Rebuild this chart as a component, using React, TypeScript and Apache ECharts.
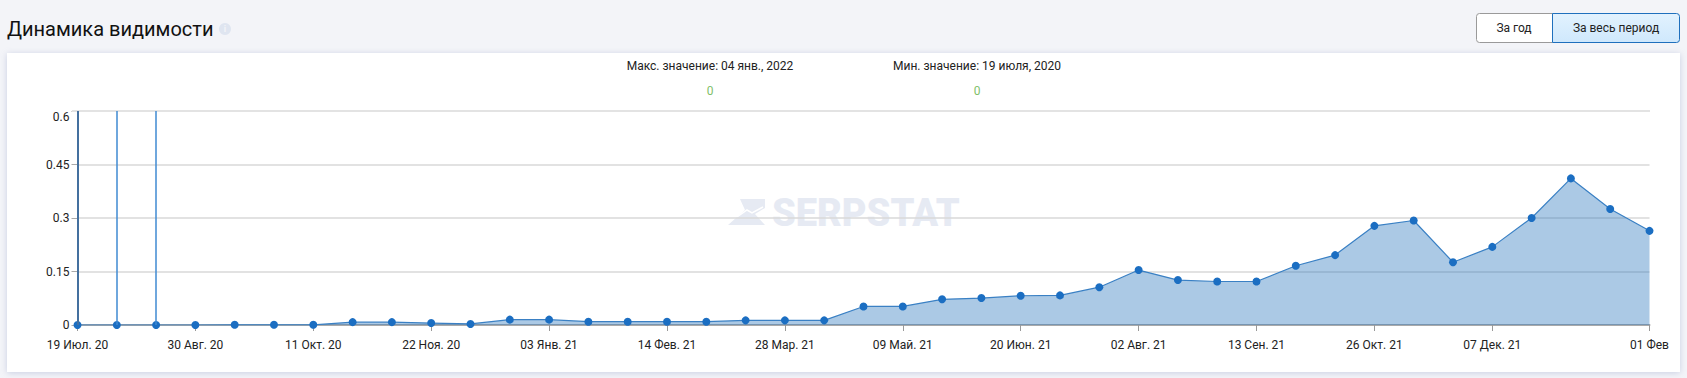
import React, { useEffect, useRef } from "react";
import * as echarts from "echarts";

const categories = [
  "19 Июл. 20","02 Авг. 20","16 Авг. 20","30 Авг. 20","13 Сен. 20","27 Сен. 20","11 Окт. 20","25 Окт. 20","08 Ноя. 20","22 Ноя. 20",
  "06 Дек. 20","20 Дек. 20","03 Янв. 21","17 Янв. 21","31 Янв. 21","14 Фев. 21","28 Фев. 21","14 Мар. 21","28 Мар. 21","11 Апр. 21",
  "25 Апр. 21","09 Май. 21","23 Май. 21","06 Июн. 21","20 Июн. 21","04 Июл. 21","18 Июл. 21","02 Авг. 21","16 Авг. 21","30 Авг. 21",
  "13 Сен. 21","27 Сен. 21","11 Окт. 21","26 Окт. 21","09 Ноя. 21","23 Ноя. 21","07 Дек. 21","21 Дек. 21","04 Янв. 22","18 Янв. 22","01 Фев",
];
const visibility = [
  0, 0, 0, 0, 0.0005, 0.0005, 0.0005, 0.008, 0.008, 0.0055,
  0.003, 0.015, 0.015, 0.0093, 0.0093, 0.0093, 0.0093, 0.013, 0.013, 0.013,
  0.052, 0.052, 0.072, 0.0755, 0.082, 0.083, 0.106, 0.154, 0.126, 0.122,
  0.122, 0.166, 0.196, 0.278, 0.293, 0.176, 0.219, 0.3, 0.411, 0.325, 0.264,
];
const spikes = ["19 Июл. 20", "02 Авг. 20", "16 Авг. 20"];
const labelledIndexes = [0, 3, 6, 9, 12, 15, 18, 21, 24, 27, 30, 33, 36, 40];
const yMax = 0.6;
const yStep = 0.15;

const FONT = "Roboto, sans-serif";

export default function App() {
  const ref = useRef<HTMLDivElement>(null);
  useEffect(() => {
    document.body.style.margin = "0";
    const chart = echarts.init(ref.current!, null, { renderer: "svg" });
    const showIdx = (i: number) => labelledIndexes.includes(i);
    chart.setOption({
      animation: false,
      backgroundColor: "#f3f4f8",
      textStyle: { fontFamily: FONT },
      grid: { left: 77.5, right: 37.5, top: 111, height: 214, containLabel: false },
      xAxis: {
        type: "category",
        boundaryGap: false,
        data: categories,
        axisLine: { show: true, lineStyle: { color: "#a9a9a9", width: 2 } },
        axisTick: { show: true, length: 6, interval: showIdx as any, lineStyle: { color: "#999", width: 1 } },
        axisLabel: { interval: showIdx as any, color: "#222", fontSize: 12, fontFamily: FONT, margin: 14, hideOverlap: false },
        splitLine: { show: false },
      },
      yAxis: {
        type: "value",
        min: 0,
        max: yMax,
        interval: yStep,
        axisLine: { show: false },
        axisTick: { show: true, length: 6, lineStyle: { color: "#aaa" } },
        axisLabel: {
          color: "#222", fontSize: 12, fontFamily: FONT, margin: 8,
          verticalAlignMaxLabel: "top",
          formatter: (v: number) => String(+v.toFixed(2)),
        },
        splitLine: { show: true, lineStyle: { color: "#d8d8d8", width: 1.5 } },
      },
      series: [
        {
          type: "line",
          data: visibility,
          smooth: false,
          symbol: "circle",
          symbolSize: 8,
          showAllSymbols: true,
          showSymbol: true,
          itemStyle: { color: "#1b6ec2" },
          lineStyle: { color: "#3a80c4", width: 1.2 },
          areaStyle: { color: "#2d78bd", opacity: 0.4 },
          markLine: {
            silent: true,
            symbol: "none",
            label: { show: false },
            lineStyle: { color: "#3f8ad2", width: 1.5, type: "solid" },
            data: spikes.map((s, i) => ({
              xAxis: s,
              lineStyle: i === 0 ? { color: "#44709f", width: 2, type: "solid" } : { color: "#3f8ad2", width: 1.5, type: "solid" },
            })),
          },
        },
      ],
      graphic: [
        {
          type: "rect", z: -10,
          shape: { x: 7, y: 53, width: 1673, height: 319 },
          style: { fill: "#fff", shadowBlur: 6, shadowColor: "rgba(150,160,200,0.45)", shadowOffsetY: 1 },
        },
        // thicker top grid line
        { type: "line", z: 1, shape: { x1: 72, y1: 111, x2: 1650, y2: 111 }, style: { stroke: "#e3e3e3", lineWidth: 2 } },
        // title
        { type: "text", x: 7, y: 29, style: { text: "Динамика видимости", font: `400 20px ${FONT}`, fill: "#111", verticalAlign: "middle" } },
        { type: "circle", shape: { cx: 225, cy: 29, r: 6 }, style: { fill: "#dfe5f0" } },
        { type: "text", x: 225, y: 29, style: { text: "i", font: `700 9px ${FONT}`, fill: "#f3f4f8", align: "center", verticalAlign: "middle" } },
        // buttons
        { type: "rect", shape: { x: 1476.5, y: 13.5, width: 76, height: 29, r: [3, 0, 0, 3] }, style: { fill: "#fff", stroke: "#9a9a9a", lineWidth: 1 } },
        {
          type: "rect",
          shape: { x: 1552.5, y: 13.5, width: 127, height: 29, r: [0, 3, 3, 0] },
          style: {
            stroke: "#1f70bd", lineWidth: 1,
            fill: { type: "linear", x: 0, y: 0, x2: 0, y2: 1, colorStops: [{ offset: 0, color: "#e2f2fe" }, { offset: 1, color: "#cfe8fc" }] },
          },
        },
        { type: "text", x: 1514, y: 28, style: { text: "За год", font: `400 12px ${FONT}`, fill: "#222", align: "center", verticalAlign: "middle" } },
        { type: "text", x: 1616, y: 28, style: { text: "За весь период", font: `400 12px ${FONT}`, fill: "#222", align: "center", verticalAlign: "middle" } },
        // stats
        { type: "text", x: 710, y: 66, style: { text: "Макс. значение: 04 янв., 2022", font: `400 12px ${FONT}`, fill: "#222", align: "center", verticalAlign: "middle" } },
        { type: "text", x: 710, y: 91, style: { text: "0", font: `400 12px ${FONT}`, fill: "#7fbf6a", align: "center", verticalAlign: "middle" } },
        { type: "text", x: 977, y: 66, style: { text: "Мин. значение: 19 июля, 2020", font: `400 12px ${FONT}`, fill: "#222", align: "center", verticalAlign: "middle" } },
        { type: "text", x: 977, y: 91, style: { text: "0", font: `400 12px ${FONT}`, fill: "#7fbf6a", align: "center", verticalAlign: "middle" } },
        // watermark
        { type: "text", z: -5, x: 772, y: 212.5, style: { text: "SERPSTAT", font: `900 38px ${FONT}`, fill: "#e6eaf3", verticalAlign: "middle" } },
        { type: "polygon", z: -5, shape: { points: [[740, 199], [765, 199], [765, 208], [755, 214], [765, 225], [728, 225], [745, 210]] }, style: { fill: "#e6eaf3" } },
        { type: "polyline", z: -4, shape: { points: [[737, 217], [747, 210], [752, 213], [763, 207]] }, style: { stroke: "#fff", lineWidth: 1.5, fill: "none" } },
      ],
    });
    return () => chart.dispose();
  }, []);
  return <div ref={ref} style={{ position: "absolute", left: 0, top: 0, width: 1687, height: 378 }} />;
}
